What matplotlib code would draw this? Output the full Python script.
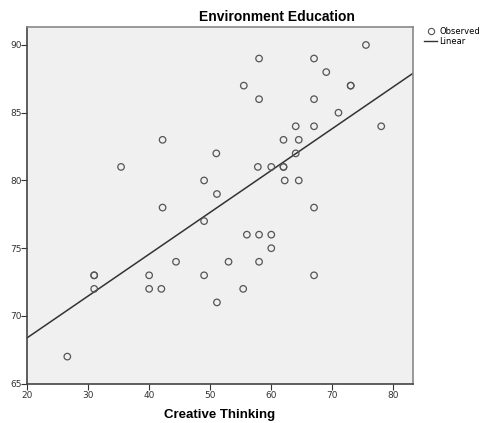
import numpy as np
import matplotlib
matplotlib.use("Agg")
import matplotlib.pyplot as plt
from matplotlib.lines import Line2D

# Creative Thinking (x) vs Environment Education (y)
creative = [26.6, 31, 31, 31, 40, 40, 42, 44.4, 49, 49, 51.1, 53, 55.4,
            56, 58, 60, 60, 58, 67,
            35.4, 42.2, 51, 49, 51.1, 42.2,
            58, 67, 69, 75.5, 55.5, 73, 73, 58, 67, 71, 64, 67, 78,
            62, 64.5, 64, 57.8, 60, 62, 62, 62.2, 64.5, 67]
environment = [67, 73, 73, 72, 73, 72, 72, 74, 77, 73, 71, 74, 72,
               76, 76, 76, 75, 74, 73,
               81, 83, 82, 80, 79, 78,
               89, 89, 88, 90, 87, 87, 87, 86, 86, 85, 84, 84, 84,
               83, 83, 82, 81, 81, 81, 81, 80, 80, 78]

# linear fit line as drawn in the reference
fit_intercept = 62.2
fit_slope = 0.309

x_ticks = [20, 30, 40, 50, 60, 70, 80]
y_ticks = [65, 70, 75, 80, 85, 90]

fig = plt.figure(figsize=(4.83, 4.23), dpi=100)
ax = fig.add_axes([0.0559, 0.0929, 0.7991, 0.844])
ax.set_facecolor("#f0f0f0")

ax.scatter(creative, environment, s=22, facecolors="none", edgecolors="#555555", linewidths=0.9, zorder=3)

xl = np.array([20, 83.2])
ax.plot(xl, fit_intercept + fit_slope * xl, color="#333333", lw=1.1, zorder=2)

ax.set_xlim(20, 83.2)
ax.set_ylim(65, 91.35)
ax.set_xticks(x_ticks)
ax.set_yticks(y_ticks)
ax.tick_params(labelsize=6.5, colors="#333333", length=4, width=0.8, pad=1)
ax.tick_params(axis="y", pad=0)
for sp in ax.spines.values():
    sp.set_color("#888888")
    sp.set_linewidth(1.2)
ax.spines["left"].set_color("#444444")
ax.spines["bottom"].set_color("#444444")

fig.text(277 / 483, 1 - 17 / 423, "Environment Education", ha="center", va="center",
         fontsize=10, fontweight="bold", family="Liberation Sans")
fig.text(220 / 483, 1 - 415 / 423, "Creative Thinking", ha="center", va="center",
         fontsize=9.5, fontweight="bold", family="Liberation Sans")

handles = [Line2D([], [], marker="o", ls="none", mfc="none", mec="#555555", ms=4.5, mew=0.8),
           Line2D([], [], color="#333333", lw=1.0)]
fig.legend(handles, ["Observed", "Linear"], loc="upper left", bbox_to_anchor=(424 / 483, 1 - 27 / 423),
           frameon=False, fontsize=6, handlelength=1.6, handletextpad=0.2, labelspacing=0.1,
           borderpad=0, borderaxespad=0)

fig.savefig("out.png", dpi=100)
